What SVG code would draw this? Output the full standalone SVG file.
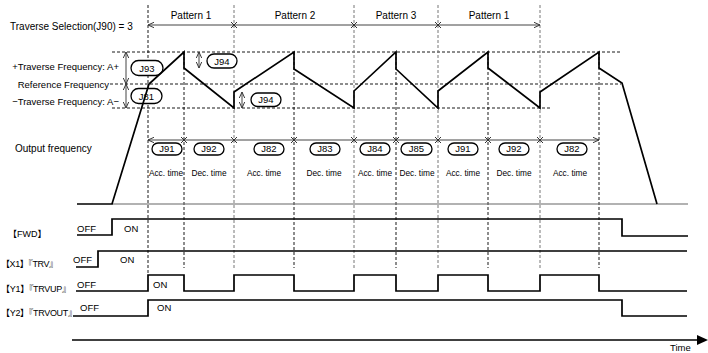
<svg xmlns="http://www.w3.org/2000/svg" width="708" height="353" viewBox="0 0 708 353">
<style>
text{font-family:"Liberation Sans","Noto Sans CJK JP",sans-serif;fill:#000}
.lbl{font-size:10px}
.lbl2{font-size:9.5px}
.sm{font-size:8.3px;text-anchor:middle}
.sig{font-size:9.5px}
.sigl{font-size:9px}
.pill rect{fill:#fff;stroke:#000;stroke-width:1.3}
.pill text{font-size:9.5px;text-anchor:middle}
.dash{stroke:#000;stroke-width:0.9;stroke-dasharray:3 2;fill:none}
.gdash{stroke:#777;stroke-width:1;stroke-dasharray:3 2;fill:none}
.wave{stroke:#000;stroke-width:1.7;fill:none;stroke-linejoin:miter}
.dim{stroke:#444;stroke-width:1;fill:none}
.xm{stroke:#333;stroke-width:1;fill:none}
</style>
<defs>
<marker id="oa" viewBox="0 0 10 10" refX="10" refY="5" markerWidth="6" markerHeight="6" orient="auto-start-reverse" markerUnits="userSpaceOnUse">
<path d="M0,0.5 L10,5 L0,9.5" fill="none" stroke="#333" stroke-width="1.6"/>
</marker>
</defs>

<g id="labels">
<text class="lbl" x="10" y="30">Traverse Selection(J90) = 3</text>
<text class="lbl2" x="119" y="69.5" text-anchor="end">+Traverse Frequency: A+</text>
<text class="lbl2" x="109" y="87.5" text-anchor="end">Reference Frequency</text>
<text class="lbl2" x="119" y="104.5" text-anchor="end">−Traverse Frequency: A−</text>
<text class="lbl" x="15" y="151.5">Output frequency</text>
<text class="lbl" x="191" y="19" text-anchor="middle">Pattern 1</text>
<text class="lbl" x="295" y="19" text-anchor="middle">Pattern 2</text>
<text class="lbl" x="396" y="19" text-anchor="middle">Pattern 3</text>
<text class="lbl" x="489" y="19" text-anchor="middle">Pattern 1</text>
</g>

<g id="grid">
<path class="dash" d="M112,52 H621 M110,84 H621 M112,108 H551"/>
<path class="dash" d="M148,5 V275 M184,52 V268 M294,52 V268 M396,52 V268 M488,52 V268 M599,52 V268"/>
<path class="gdash" d="M234,5 V268 M354,5 V268 M438,5 V268 M540,5 V268"/>
</g>

<g id="connectors">
<path class="dim" d="M148,25 H540" marker-start="url(#oa)" marker-end="url(#oa)"/>
<path class="xm" d="M231,22 l6,6 m0,-6 l-6,6 M351,22 l6,6 m0,-6 l-6,6 M435,22 l6,6 m0,-6 l-6,6"/>
<path class="dim" d="M148,140 H599" marker-start="url(#oa)" marker-end="url(#oa)"/>
<path class="xm" d="M181,137 l6,6 m0,-6 l-6,6 M231,137 l6,6 m0,-6 l-6,6 M291,137 l6,6 m0,-6 l-6,6 M351,137 l6,6 m0,-6 l-6,6 M393,137 l6,6 m0,-6 l-6,6 M435,137 l6,6 m0,-6 l-6,6 M485,137 l6,6 m0,-6 l-6,6 M537,137 l6,6 m0,-6 l-6,6"/>
<path class="dim" d="M126,52 V84" marker-start="url(#oa)" marker-end="url(#oa)"/>
<path class="dim" d="M126,84 V108" marker-start="url(#oa)" marker-end="url(#oa)"/>
<path class="dim" d="M199,52 V68" marker-start="url(#oa)" marker-end="url(#oa)"/>
<path class="dim" d="M242,92 V108" marker-start="url(#oa)" marker-end="url(#oa)"/>
</g>

<g id="pills-top">
<g id="p-j93" class="pill"><rect x="131" y="60.5" width="32" height="15" rx="7.5"/><text x="147" y="71.5">J93</text></g>
<g id="p-j81" class="pill"><rect x="131" y="88.5" width="31" height="15" rx="7.5"/><text x="146.5" y="99.5">J81</text></g>
<g id="p-j94a" class="pill"><rect x="207" y="54" width="30" height="14" rx="7"/><text x="222" y="64.5">J94</text></g>
<g id="p-j94b" class="pill"><rect x="251" y="93" width="30" height="13.5" rx="6.75"/><text x="266" y="103.3">J94</text></g>
</g>

<g id="waveform">
<path d="M112,204 H688" stroke="#666" stroke-width="1.2" fill="none"/>
<path class="wave" d="M77,204 L112,204 L149,84 L184,52 L184,68 L234,108 L234,92 L294,52 L294,69 L354,108 L354,91 L396,52 L396,69 L438,108 L438,91 L488,52 L488,68 L540,108 L540,92 L599,52 L599,68 L622,83 L657,204"/>
</g>

<g id="pills-bottom">
<g class="pill"><rect x="152" y="143" width="30" height="12" rx="6"/><text x="167" y="152.3">J91</text></g>
<g class="pill"><rect x="194" y="143" width="30" height="12" rx="6"/><text x="209" y="152.3">J92</text></g>
<g class="pill"><rect x="254" y="143" width="30" height="12" rx="6"/><text x="269" y="152.3">J82</text></g>
<g class="pill"><rect x="310" y="143" width="30" height="12" rx="6"/><text x="325" y="152.3">J83</text></g>
<g class="pill"><rect x="360" y="143" width="30" height="12" rx="6"/><text x="375" y="152.3">J84</text></g>
<g class="pill"><rect x="401" y="143" width="31" height="12" rx="6"/><text x="416.5" y="152.3">J85</text></g>
<g class="pill"><rect x="448" y="143" width="30" height="12" rx="6"/><text x="463" y="152.3">J91</text></g>
<g class="pill"><rect x="499" y="143" width="30" height="12" rx="6"/><text x="514" y="152.3">J92</text></g>
<g class="pill"><rect x="557" y="143" width="30" height="12" rx="6"/><text x="572" y="152.3">J82</text></g>
<text class="sm" x="166" y="175.5">Acc. time</text>
<text class="sm" x="209" y="175.5">Dec. time</text>
<text class="sm" x="264" y="175.5">Acc. time</text>
<text class="sm" x="324" y="175.5">Dec. time</text>
<text class="sm" x="375" y="175.5">Acc. time</text>
<text class="sm" x="417" y="175.5">Dec. time</text>
<text class="sm" x="463" y="175.5">Acc. time</text>
<text class="sm" x="514" y="175.5">Dec. time</text>
<text class="sm" x="570" y="175.5">Acc. time</text>
</g>

<g id="signals">
<text class="sigl" x="8" y="237">【FWD】</text>
<text class="sigl" x="1" y="267" textLength="57" lengthAdjust="spacing">【X1】『TRV』</text>
<text class="sigl" x="1" y="292" textLength="70" lengthAdjust="spacing">【Y1】『TRVUP』</text>
<text class="sigl" x="1" y="316" textLength="76" lengthAdjust="spacing">【Y2】『TRVOUT』</text>
<path class="wave" d="M77,235 H112 V219 H622 V236 H688"/>
<path class="wave" d="M76,267 H98 V251 H687"/>
<path class="wave" d="M76,291 H148 V275 H184 V291 H234 V275 H294 V291 H354 V275 H396 V291 H438 V275 H488 V291 H540 V275 H599 V291 H687"/>
<path class="wave" d="M73,316 H148 V300 H622 V316 H687"/>
<text class="sig" x="77" y="232">OFF</text>
<text class="sig" x="124" y="232">ON</text>
<text class="sig" x="73" y="263">OFF</text>
<text class="sig" x="120" y="263">ON</text>
<text class="sig" x="77" y="288">OFF</text>
<text class="sig" x="153" y="288">ON</text>
<text class="sig" x="80" y="311">OFF</text>
<text class="sig" x="157" y="311">ON</text>
</g>

<g id="time-axis">
<path d="M72,340 H698" stroke="#000" stroke-width="1.5" fill="none"/>
<polygon points="697,335 708,340 697,345" fill="#000"/>
<text class="sig" x="670" y="351">Time</text>
</g>
</svg>
